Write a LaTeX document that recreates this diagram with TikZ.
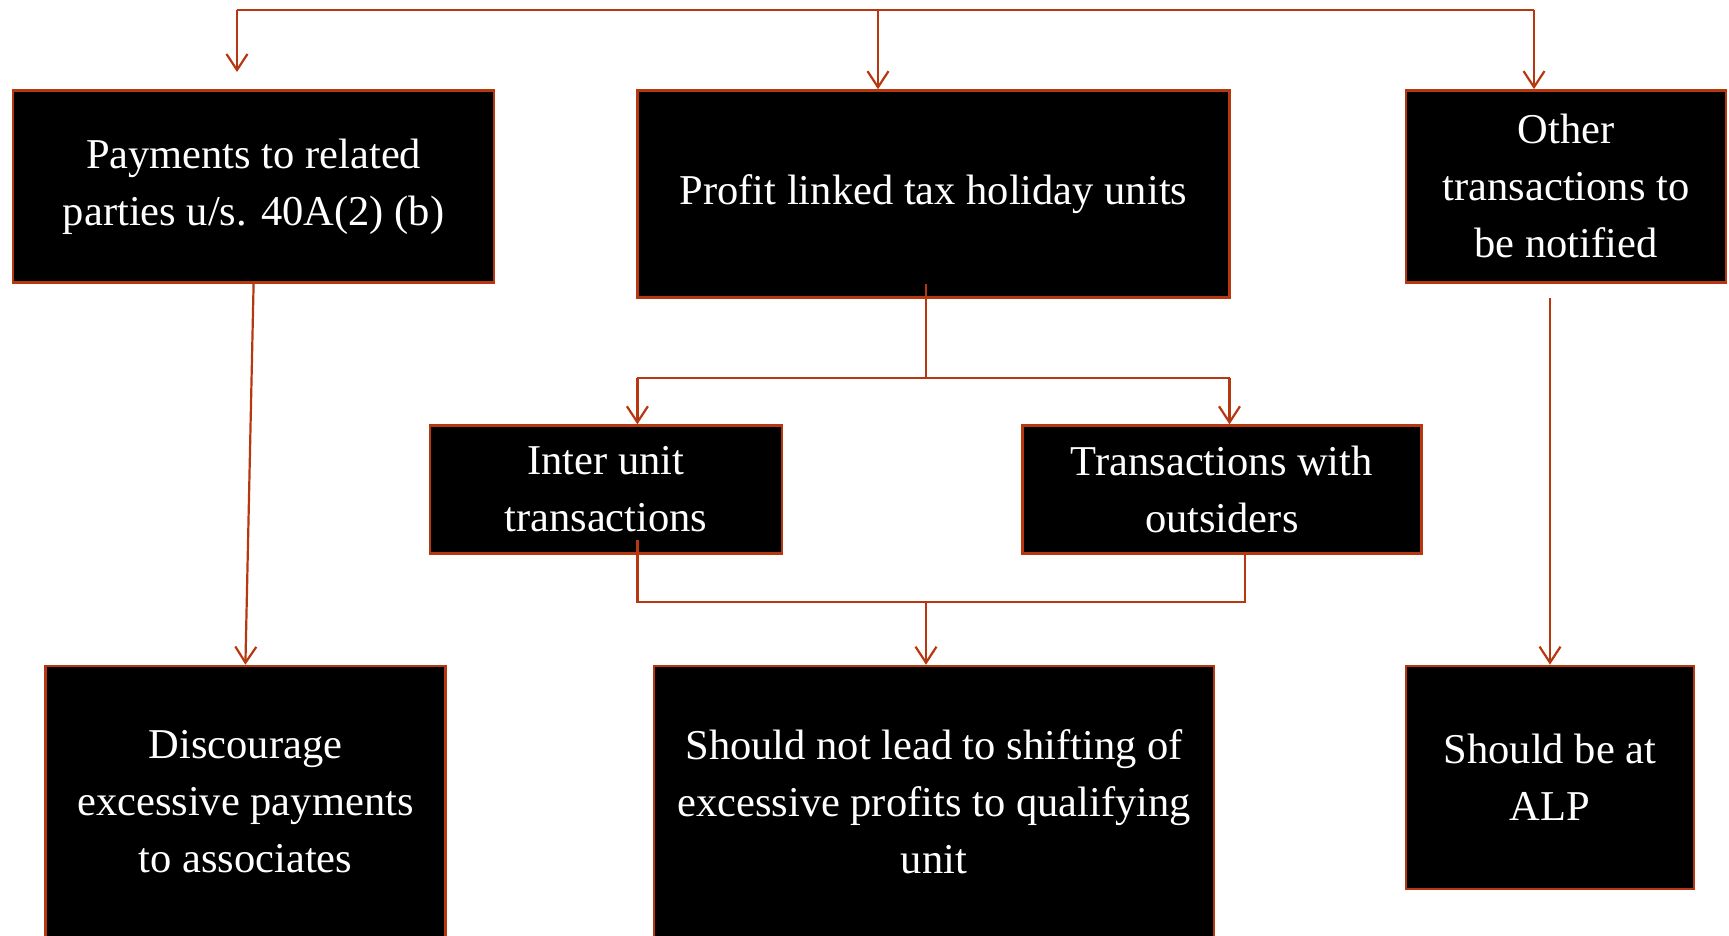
\documentclass[tikz,border=0pt]{standalone}
\usepackage{fontspec}
\setmainfont{Liberation Serif}
\usetikzlibrary{arrows.meta}
\definecolor{rust}{RGB}{183,56,16}
\begin{document}
\begin{tikzpicture}[x=1pt,y=-1pt,
  box/.style={draw=rust,line width=2.6pt,fill=black,text=white,align=center,
    inner sep=0pt,font=\fontsize{42.5}{57}\selectfont},
  link/.style={draw=rust,line width=2.2pt},
  arr/.style={link,-{Straight Barb[length=16pt,width=21pt,line width=2.2pt]}}]
\useasboundingbox (0,0) rectangle (1729,936);
\fill[white] (0,0) rectangle (1729,936);

% top row
\node[box,minimum width=481pt,minimum height=192pt] (A) at (253.6,186.4)
  {Payments to related\\parties u/s. 40A(2) (b)};
\node[box,minimum width=592pt,minimum height=207pt] (B) at (933.5,194)
  {Profit linked tax holiday units};
\node[box,minimum width=320pt,minimum height=192pt] (C) at (1566,186.4)
  {Other\\transactions to\\be notified};

% middle row
\node[box,minimum width=352pt,minimum height=128pt] (D) at (606,489.6)
  {Inter unit\\transactions};
\node[box,minimum width=399pt,minimum height=128pt] (E) at (1221.8,489.6)
  {Transactions with\\outsiders};

% bottom row
\node[box,minimum width=400pt,minimum height=272pt] (F) at (245.4,802)
  {Discourage\\excessive payments\\to associates};
\node[box,minimum width=560pt,minimum height=272pt] (G) at (934,802)
  {Should not lead to shifting of\\excessive profits to qualifying\\unit};
\node[box,minimum width=288pt,minimum height=223pt] (H) at (1550,777.4)
  {Should be at\\ALP};

% top distribution bus
\coordinate (busL) at (237,10);
\coordinate (busM) at (878,10);
\coordinate (busR) at (1534,10);
\coordinate (tipA) at (237,72);
\draw[link] (busL) -- (busR);
\draw[arr] (busL) -- (tipA);
\draw[arr] (busM) -- (busM |- B.north);
\draw[arr] (busR) -- (busR |- C.north);

% left column
\draw[arr] (A.south) -- (F.north);

% split below the profit linked units
\coordinate (bStart) at (926,284);
\coordinate (bJoin) at (926,378);
\coordinate (bL) at (637.4,378);
\coordinate (bR) at (1229.5,378);
\draw[link] (bStart) -- (bJoin);
\draw[link] (bL) -- (bR);
\draw[arr] (bL) -- (bL |- D.north);
\draw[arr] (bR) -- (bR |- E.north);

% merge into the bottom middle box
\coordinate (dStart) at (637.4,540);
\coordinate (mL) at (637.4,602);
\coordinate (mR) at (1245,602);
\coordinate (mM) at (926,602);
\draw[link] (dStart) -- (mL) -- (mR) -- (mR |- E.south);
\draw[arr] (mM) -- (mM |- G.north);

% right column
\coordinate (cStart) at (1550,298);
\draw[arr] (cStart) -- (H.north);
\end{tikzpicture}
\end{document}
